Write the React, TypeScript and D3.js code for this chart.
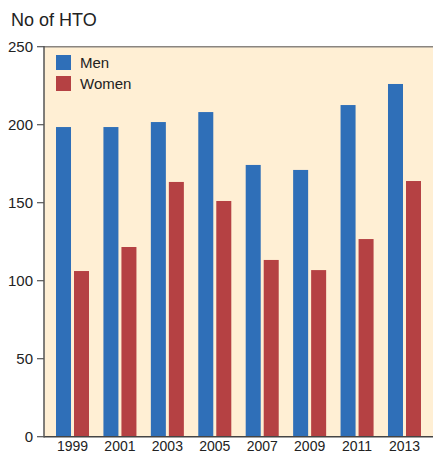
import React from "react";
import * as d3 from "d3";

const years = ["1999", "2001", "2003", "2005", "2007", "2009", "2011", "2013"];
const men = [198.5, 198.5, 201.7, 208.1, 174.2, 171, 212.6, 226.1];
const women = [106.2, 121.6, 163.3, 151.1, 113.3, 106.8, 126.7, 163.9];
const seriesNames = ["Men", "Women"];
const yTicks = [0, 50, 100, 150, 200, 250];

const colors: Record<string, string> = { Men: "#2f6fb8", Women: "#b54143" };
const W = 433;
const H = 454;
const left = 44;
const top = 46.7;
const bottom = 436.7;
const font = "'Liberation Sans', Arial, Helvetica, sans-serif";

export default function App() {
  const y = d3.scaleLinear().domain([0, 250]).range([bottom, top]);
  const x = d3
    .scaleBand<string>()
    .domain(years)
    .range([left, W])
    .paddingInner(0.304)
    .paddingOuter(0.253);
  const x1 = d3
    .scaleBand<string>()
    .domain(seriesNames)
    .range([0, x.bandwidth()])
    .paddingInner(0.1667);

  const data = years.map((yr, i) => ({ year: yr, Men: men[i], Women: women[i] }));

  return (
    <svg
      width={W}
      height={H}
      style={{ position: "absolute", left: 0, top: 0, display: "block" }}
      fontFamily={font}
    >
      <rect x={0} y={0} width={W} height={H} fill="#fff" />
      <rect x={left} y={top} width={W - left} height={bottom - top} fill="#ffefd4" />
      <text x={11} y={26} fontSize={18} fill="#222">
        No of HTO
      </text>
      {data.map((d) => (
        <g key={d.year} transform={`translate(${x(d.year)},0)`}>
          {seriesNames.map((s) => (
            <rect
              key={s}
              x={x1(s)}
              y={y((d as any)[s])}
              width={x1.bandwidth()}
              height={y(0) - y((d as any)[s])}
              fill={colors[s]}
            />
          ))}
          <text
            x={x.bandwidth() / 2}
            y={451}
            textAnchor="middle"
            fontSize={14}
            fill="#222"
          >
            {d.year}
          </text>
        </g>
      ))}
      <line x1={left} x2={W} y1={top} y2={top} stroke="#8a8580" strokeWidth={1.6} />
      <line x1={left} x2={W} y1={bottom} y2={bottom} stroke="#444" strokeWidth={1.5} />
      <line x1={left} x2={left} y1={top - 0.8} y2={bottom + 0.75} stroke="#555" strokeWidth={1.5} />
      {yTicks.map((t) => (
        <g key={t}>
          <line x1={37} x2={left} y1={y(t)} y2={y(t)} stroke="#555" strokeWidth={1.2} />
          <text
            x={33}
            y={y(t)}
            dy="0.36em"
            textAnchor="end"
            fontSize={15}
            fill="#222"
          >
            {t}
          </text>
        </g>
      ))}
      {seriesNames.map((s, i) => (
        <g key={s} transform={`translate(56,${55 + i * 21})`}>
          <rect x={0} y={0} width={15} height={15} fill={colors[s]} />
          <text x={24} y={12.5} fontSize={15} fill="#222">
            {s}
          </text>
        </g>
      ))}
    </svg>
  );
}
